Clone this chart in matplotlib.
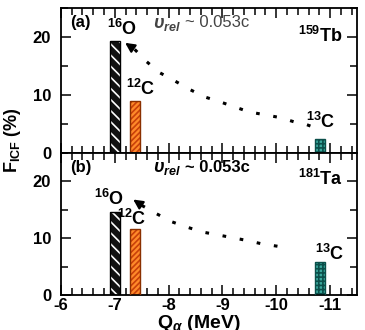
"""
ICF fraction vs Q_alpha for 159Tb and 181Ta
"""

import numpy as np
import matplotlib.pyplot as plt
from matplotlib.ticker import MultipleLocator

plt.rcParams['font.family'] = ['Liberation Sans', 'DejaVu Sans']
plt.rcParams['font.weight'] = 'bold'
plt.rcParams['mathtext.fontset'] = 'custom'
plt.rcParams['mathtext.rm'] = 'Liberation Sans:bold'
plt.rcParams['mathtext.bf'] = 'Liberation Sans:bold'
plt.rcParams['mathtext.it'] = 'Liberation Sans:italic'
plt.rcParams['hatch.linewidth'] = 1.2

# projectiles and their Q_alpha values (MeV)
projectiles = ['16O', '12C', '13C']
q_alpha = [-7.0, -7.37, -10.82]

# F_ICF (%) per target
f_tb = [19.4, 9.0, 2.4]
f_ta = [14.7, 11.6, 5.8]

# dotted guide lines
guide_tb_q = [-7.37, -7.59, -7.83, -8.07, -8.39, -8.67, -8.94, -9.22, -9.5, -9.8, -10.09, -10.33, -10.57, -10.83]
guide_tb_f = [17.9, 15.8, 13.9, 12.7, 11.0, 9.7, 8.9, 8.0, 7.1, 6.6, 6.1, 5.4, 4.9, 4.0]
guide_ta_q = [-7.5, -7.78, -8.06, -8.33, -8.63, -8.91, -9.19, -9.46, -9.74, -10.02, -10.27]
guide_ta_f = [15.8, 14.3, 12.9, 12.0, 11.1, 10.6, 10.1, 9.6, 9.0, 8.6, 8.2]

face = ['#111111', '#ff8a2a', '#3aa89c']
hatchc = ['white', '#c8400a', '#0b4f4a']
edge = ['black', '#8a3000', '#0b4f4a']
hatches = ['\\\\\\', '//////', '++++']
width = 0.19


def draw_panel(ax, vals, gq, gf, tip, tag, target, bold_v, labels):
    for i in range(len(projectiles)):
        ax.bar(q_alpha[i], vals[i], width, color=face[i], edgecolor=hatchc[i],
               hatch=hatches[i], linewidth=0, zorder=2)
        ax.bar(q_alpha[i], vals[i], width, color='none', edgecolor=edge[i],
               linewidth=1.0, zorder=3)
    ax.plot(gq, gf, color='black', lw=2.2, linestyle=(0, (1.2, 4.5)), zorder=4)
    ax.annotate('', xy=tip, xytext=(gq[0], gf[0]),
                arrowprops=dict(arrowstyle='-|>', color='black', lw=1.5,
                                mutation_scale=14))
    ax.set_xlim(-6, -11.5)
    ax.set_ylim(0, 25)
    ax.xaxis.set_major_locator(MultipleLocator(1))
    ax.xaxis.set_minor_locator(MultipleLocator(0.2))
    ax.yaxis.set_major_locator(MultipleLocator(10))
    ax.yaxis.set_minor_locator(MultipleLocator(5))
    ax.tick_params(which='both', direction='in', top=True, right=True, width=1.1,
                   labelsize=12, pad=2)
    ax.tick_params(axis='y', pad=7)
    ax.tick_params(which='major', length=7)
    ax.tick_params(which='minor', length=5)
    for s in ax.spines.values():
        s.set_linewidth(1.3)
    ax.text(0.03, 0.90, tag, transform=ax.transAxes, fontsize=12, va='center')
    vcol = 'black' if bold_v else '#444444'
    vw = 'bold' if bold_v else 'normal'
    ax.text(0.31, 0.89, r'$\mathit{\upsilon_{rel}}$', transform=ax.transAxes,
            fontsize=13, va='center', color=vcol)
    ax.text(0.42, 0.90, '~ 0.053c', transform=ax.transAxes, fontsize=12,
            va='center', color=vcol, fontweight=vw)
    ax.text(0.80, 0.81 if not bold_v else 0.82, target, transform=ax.transAxes,
            fontsize=13, va='center')
    for name, (x, y) in zip(projectiles, labels):
        ax.text(x, y, r'$^{%s}$%s' % (name[:-1], name[-1]), fontsize=13,
                ha='left', va='center')


fig = plt.figure(figsize=(3.65, 3.3), dpi=100)
ax1 = fig.add_axes([0.167, 0.536, 0.811, 0.439])
ax2 = fig.add_axes([0.167, 0.106, 0.811, 0.430])

draw_panel(ax1, f_tb, guide_tb_q, guide_tb_f, (-7.15, 19.3), '(a)',
           r'$^{159}$Tb', False,
           [(-6.85, 21.5), (-7.2, 11.0), (-10.55, 5.4)])
draw_panel(ax2, f_ta, guide_ta_q, guide_ta_f, (-7.3, 17.1), '(b)',
           r'$^{181}$Ta', True,
           [(-6.62, 17.0), (-7.05, 13.4), (-10.72, 7.3)])

ax1.tick_params(labelbottom=False)
ax1.set_yticks([0, 10, 20])
ax2.set_yticks([0, 10, 20])
ax2.set_xticks([-6, -7, -8, -9, -10, -11])
ax2.set_xticklabels(['-6', '-7', '-8', '-9', '-10', '-11'])

fig.text(0.035, 0.575, r'F$_{\rm ICF}$ (%)', rotation=90, fontsize=13,
         ha='center', va='center')
fig.text(0.545, 0.05, r'Q$_{\alpha}$ (MeV)', fontsize=14, ha='center', va='top')

fig.savefig('out.png', dpi=100)
